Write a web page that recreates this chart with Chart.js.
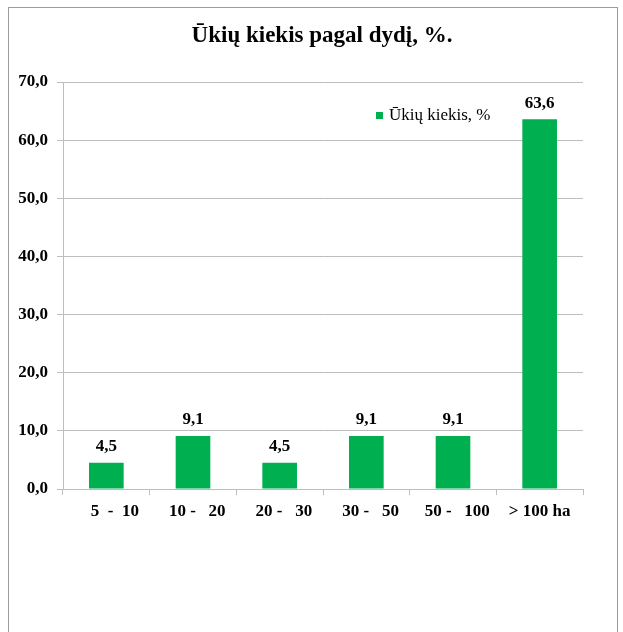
<!DOCTYPE html>
<html>
<head>
<meta charset="utf-8">
<script src="https://cdn.jsdelivr.net/npm/chart.js@4/dist/chart.umd.min.js"></script>
<style>
  html, body { margin: 0; padding: 0; background: #fff; overflow: hidden; }
  #frame { position: absolute; left: 8px; top: 7px; width: 608px; height: 700px; border: 1px solid #9c9c9c; }
  #chart { position: absolute; left: 0; top: 0; }
</style>
</head>
<body>
<div id="frame"></div>
<canvas id="chart" width="623" height="632"></canvas>
<script>
  const categories = ["    5  -  10", "  10 -   20", "  20 -   30", "  30 -   50", "  50 -   100", "> 100 ha"];
  const shares = [4.5, 9.1, 4.5, 9.1, 9.1, 63.6];
  const seriesName = "Ūkių kiekis, %";
  const titleText = "Ūkių kiekis pagal dydį, %.";

  const serif = "'Liberation Serif', 'Times New Roman', serif";
  const green = "#00B050";
  const gridColor = "#BDBDBD";

  const fmt = (v) => Number(v).toFixed(1).replace(".", ",");

  // title drawn centred on the frame, not on the plot
  const frameTitle = {
    id: "frameTitle",
    afterDraw(chart) {
      const ctx = chart.ctx;
      ctx.save();
      ctx.font = "bold 23px " + serif;
      ctx.fillStyle = "#000";
      ctx.textAlign = "center";
      ctx.textBaseline = "alphabetic";
      ctx.fillText(titleText, 322, 42);
      ctx.restore();
    },
  };

  // value labels over the bars
  const barLabels = {
    id: "barLabels",
    afterDatasetsDraw(chart) {
      const ctx = chart.ctx;
      const meta = chart.getDatasetMeta(0);
      ctx.save();
      ctx.font = "bold 17px " + serif;
      ctx.fillStyle = "#000";
      ctx.textAlign = "center";
      ctx.textBaseline = "middle";
      meta.data.forEach((bar, i) => {
        ctx.fillText(fmt(shares[i]), bar.x, bar.y - 16);
      });
      ctx.restore();
    },
  };

  // legend sits inside the plot, left of the tall bar
  const insideLegend = {
    id: "insideLegend",
    afterDraw(chart) {
      const ctx = chart.ctx;
      const x = chart.chartArea.left + 313;
      const y = chart.chartArea.top + 34;
      ctx.save();
      ctx.fillStyle = green;
      ctx.fillRect(x, y - 4, 7, 7);
      ctx.fillStyle = "#000";
      ctx.font = "17px " + serif;
      ctx.textBaseline = "middle";
      ctx.fillText(seriesName, x + 13, y);
      ctx.restore();
    },
  };

  new Chart(document.getElementById("chart"), {
    type: "bar",
    data: {
      labels: categories,
      datasets: [
        {
          label: seriesName,
          data: shares,
          backgroundColor: green,
          borderWidth: 0,
          barPercentage: 0.4,
          categoryPercentage: 1,
        },
      ],
    },
    options: {
      responsive: false,
      devicePixelRatio: 1,
      animation: false,
      layout: { padding: { left: 0, right: 40, top: 82, bottom: 103 } },
      plugins: {
        legend: { display: false },
        tooltip: { enabled: false },
        title: { display: false },
      },
      scales: {
        x: {
          offset: true,
          afterFit: (s) => { s.height = 40; },
          grid: { drawOnChartArea: false, drawTicks: true, tickLength: 6, color: gridColor, offset: true },
          border: { display: true, color: gridColor },
          ticks: { color: "#000", padding: 6, maxRotation: 0, autoSkip: false, font: { family: serif, size: 17, weight: "bold" } },
        },
        y: {
          min: 0,
          max: 70,
          afterFit: (s) => { s.width = 63; },
          grid: { color: gridColor, tickLength: 6 },
          border: { display: true, color: gridColor },
          ticks: {
            stepSize: 10,
            color: "#000",
            padding: 9,
            font: { family: serif, size: 17, weight: "bold" },
            callback: (v) => fmt(v),
          },
        },
      },
    },
    plugins: [frameTitle, barLabels, insideLegend],
  });
</script>
</body>
</html>
